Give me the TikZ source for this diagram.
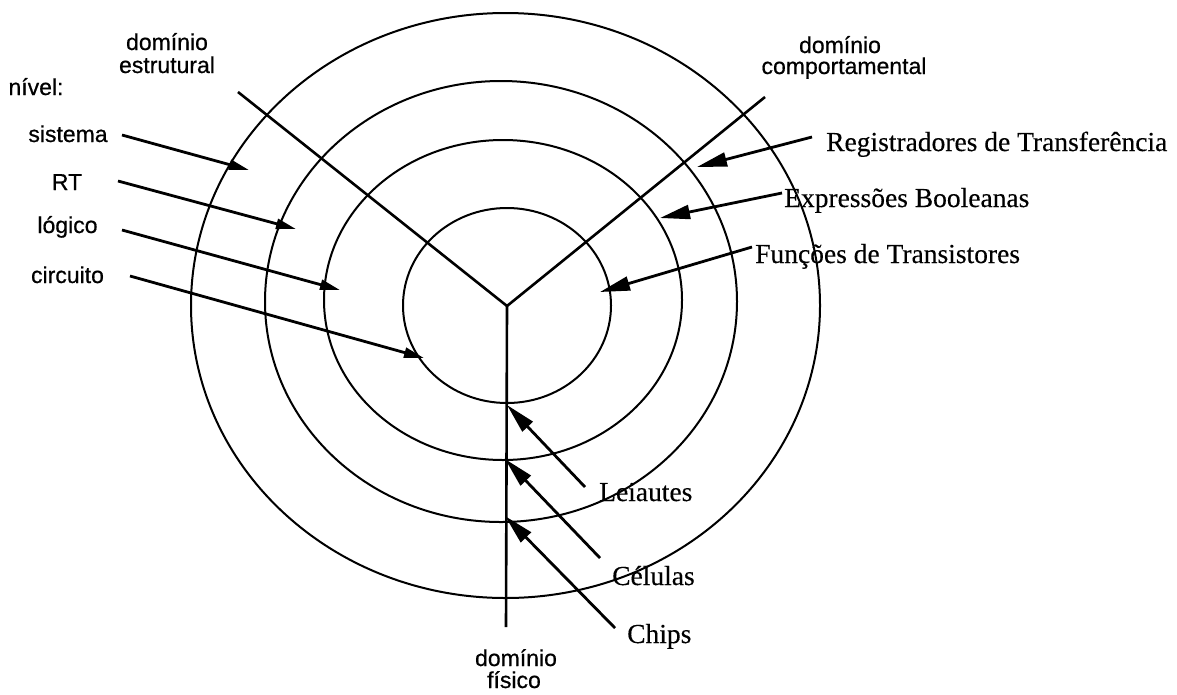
\documentclass[tikz,border=0pt]{standalone}
\usepackage{fontspec}
\setmainfont{Liberation Serif}[FakeBold=0.3]
\setsansfont{Liberation Sans}[FakeBold=0.6]
\usetikzlibrary{arrows.meta}
\begin{document}
\begin{tikzpicture}[x=1pt,y=-1pt,
  ring/.style={line width=2pt},
  axis/.style={line width=2.6pt},
  larr/.style={line width=2.8pt,-{Triangle[length=20pt,width=10pt]}},
  barr/.style={line width=2.8pt,-{Triangle[length=30pt,width=14pt]}},
  slab/.style={font=\fontsize{23}{23}\selectfont\sffamily,inner sep=0pt,anchor=base},
  rlab/.style={font=\fontsize{27.5}{28}\selectfont,inner sep=0pt,anchor=base west}]
\useasboundingbox (0,0) rectangle (1177,694);
% rings
\draw[ring] (505.5,305.5) ellipse [x radius=314.5, y radius=292.5];
\draw[ring] (501,301.5) ellipse [x radius=236, y radius=220.5];
\draw[ring] (503,300) ellipse [x radius=179, y radius=160];
\draw[ring] (507,305.5) ellipse [x radius=104, y radius=97.5];
% Y axes
\coordinate (c) at (507,306);
\coordinate (ys) at (238,92);
\coordinate (yc) at (765,97);
\coordinate (yf) at (506,627);
\draw[axis,line join=miter] (ys) -- (c) -- (yc);
\draw[axis] (c) -- (yf);
% domain labels
\node[slab] (est1) at (167,50) {domínio};
\node[slab] (est2) at (167,73) {estrutural};
\node[slab] (com1) at (840,53) {domínio};
\node[slab] (com2) at (844,74) {comportamental};
\node[slab] (fis1) at (516,666) {domínio};
\node[slab] (fis2) at (514,688) {físico};
% level labels
\node[slab] (nivel) at (36,95) {nível:};
\node[slab] (sis) at (68,142) {sistema};
\node[slab] (rt) at (67,190) {RT};
\node[slab] (log) at (67.5,233) {lógico};
\node[slab] (cir) at (67.5,283) {circuito};
% right labels
\node[rlab] (reg) at (826,151) {Registradores de Transferência};
\node[rlab] (exp) at (784,207) {Expressões Booleanas};
\node[rlab] (fun) at (755,263) {Funções de Transistores};
\node[rlab] (lei) at (599,501) {Leiautes};
\node[rlab] (cel) at (612,585) {Células};
\node[rlab] (chi) at (627,643) {Chips};
% arrow end points
\coordinate (sisA) at (122,135); \coordinate (sisB) at (249,170);
\coordinate (rtA) at (118,181);  \coordinate (rtB) at (296,229);
\coordinate (logA) at (122,230); \coordinate (logB) at (340,290);
\coordinate (cirA) at (130,276); \coordinate (cirB) at (424,358);
\coordinate (regA) at (812,137); \coordinate (regB) at (697,167);
\coordinate (expA) at (782,193); \coordinate (expB) at (660,218);
\coordinate (funA) at (752,247); \coordinate (funB) at (600,292);
\coordinate (leiA) at (585,487); \coordinate (leiB) at (507,405);
\coordinate (celA) at (600,558); \coordinate (celB) at (505,459);
\coordinate (chiA) at (615,628); \coordinate (chiB) at (505,516);
% arrows
\draw[larr] (sisA) -- (sisB);
\draw[larr] (rtA) -- (rtB);
\draw[larr] (logA) -- (logB);
\draw[larr] (cirA) -- (cirB);
\draw[barr] (regA) -- (regB);
\draw[barr] (expA) -- (expB);
\draw[barr] (funA) -- (funB);
\draw[barr] (leiA) -- (leiB);
\draw[barr] (celA) -- (celB);
\draw[barr] (chiA) -- (chiB);
\end{tikzpicture}
\end{document}
